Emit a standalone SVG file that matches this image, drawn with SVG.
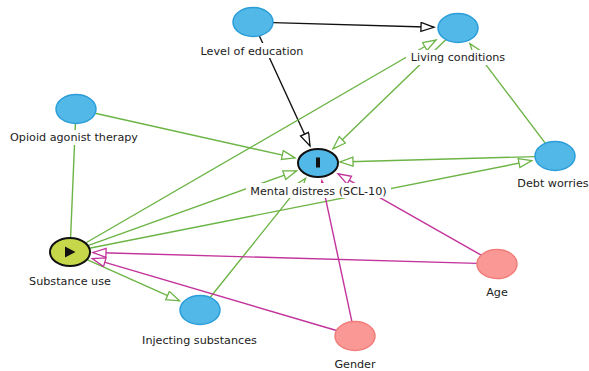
<svg xmlns="http://www.w3.org/2000/svg" width="589" height="371" viewBox="0 0 589 371">
<style>
.e{fill:none;stroke-width:1.4}
.g{stroke:#6cb445}
.m{stroke:#c2339b}
.k{stroke:#111}
.blue{fill:#52b8e8;stroke:#2b9dd8;stroke-width:1.5}
.pink{fill:#fa9896;stroke:#f07d7a;stroke-width:1.5}
.bg{fill:#fff}
.lbl{font-family:"DejaVu Sans",sans-serif;font-size:11.2px;fill:#222;text-anchor:middle}
</style>
<defs>
<marker id="ag" markerUnits="userSpaceOnUse" markerWidth="16" markerHeight="12" refX="14" refY="5" orient="auto"><path d="M1,0.5 L14,5 L1,9.5 Z" fill="#fff" stroke="#6cb445" stroke-width="1.3"/></marker>
<marker id="am" markerUnits="userSpaceOnUse" markerWidth="16" markerHeight="12" refX="14" refY="5" orient="auto"><path d="M1,0.5 L14,5 L1,9.5 Z" fill="#fff" stroke="#c2339b" stroke-width="1.3"/></marker>
<marker id="ak" markerUnits="userSpaceOnUse" markerWidth="16" markerHeight="12" refX="14" refY="5" orient="auto"><path d="M1,0.5 L14,5 L1,9.5 Z" fill="#fff" stroke="#111" stroke-width="1.3"/></marker>
</defs>
<g id="connectors">
<line class="e k" x1="273" y1="22.6" x2="434" y2="27.3" marker-end="url(#ak)"/>
<line class="e k" x1="259.3" y1="35.7" x2="310" y2="146" marker-end="url(#ak)"/>
<line class="e g" x1="446" y1="39.6" x2="333" y2="148.8" marker-end="url(#ag)"/>
<line class="e g" x1="545.4" y1="143.3" x2="469.9" y2="43.6" marker-end="url(#ag)"/>
<line class="e g" x1="535" y1="156.6" x2="340" y2="162" marker-end="url(#ag)"/>
<line class="e g" x1="89.3" y1="248.2" x2="531.8" y2="160.6" marker-end="url(#ag)"/>
<line class="e g" x1="85.6" y1="243" x2="436" y2="40" marker-end="url(#ag)"/>
<line class="e g" x1="87.9" y1="245.6" x2="296.5" y2="170.8" marker-end="url(#ag)"/>
<line class="e g" x1="95.1" y1="113.3" x2="295" y2="157.9" marker-end="url(#ag)"/>
<line class="e g" x1="70.6" y1="237.5" x2="75.4" y2="123.5"/>
<line class="e g" x1="87" y1="259.6" x2="179.4" y2="300.8" marker-end="url(#ag)"/>
<line class="e g" x1="210.1" y1="297.5" x2="305.6" y2="178.4" marker-end="url(#ag)"/>
<line class="e m" x1="481.2" y1="255.1" x2="338" y2="173.8" marker-end="url(#am)"/>
<line class="e m" x1="477" y1="263.4" x2="93" y2="252.5" marker-end="url(#am)"/>
<line class="e m" x1="351.9" y1="321.7" x2="321.8" y2="180.8" marker-end="url(#am)"/>
<line class="e m" x1="336.5" y1="330.5" x2="92.3" y2="258.6" marker-end="url(#am)"/>
</g>
<g id="level-of-education">
<ellipse class="blue" cx="253" cy="22" rx="20" ry="14.5"/>
<rect class="bg" x="197" y="43" width="110" height="15"/>
<text class="lbl" x="252" y="54.5">Level of education</text>
</g>
<g id="living-conditions">
<ellipse class="blue" cx="458" cy="28" rx="20" ry="14.5"/>
<rect class="bg" x="406" y="50" width="104" height="15"/>
<text class="lbl" x="458" y="61">Living conditions</text>
</g>
<g id="opioid-agonist-therapy">
<ellipse class="blue" cx="76" cy="109" rx="20" ry="14.5"/>
<rect class="bg" x="6" y="130" width="136" height="15"/>
<text class="lbl" x="74" y="141">Opioid agonist therapy</text>
</g>
<g id="mental-distress">
<ellipse cx="318" cy="163" rx="20" ry="14" fill="#52b8e8" stroke="#111" stroke-width="2"/>
<rect x="316" y="157.5" width="4" height="10" fill="#111"/>
<rect class="bg" x="246" y="183" width="145" height="15"/>
<text class="lbl" x="318.5" y="194.5">Mental distress (SCL-10)</text>
</g>
<g id="debt-worries">
<ellipse class="blue" cx="555" cy="156" rx="20" ry="14.5"/>
<rect class="bg" x="514" y="176" width="75" height="15"/>
<text class="lbl" x="553" y="187">Debt worries</text>
</g>
<g id="substance-use">
<ellipse cx="70" cy="252" rx="20" ry="14" fill="#c6d84a" stroke="#111" stroke-width="2"/>
<path d="M65,246.5 L75.5,252 L65,257.5 Z" fill="#111"/>
<rect class="bg" x="26" y="274" width="88" height="15"/>
<text class="lbl" x="70" y="285">Substance use</text>
</g>
<g id="injecting-substances">
<ellipse class="blue" cx="200" cy="310" rx="20" ry="14.5"/>
<rect class="bg" x="138" y="333" width="123" height="15"/>
<text class="lbl" x="199.5" y="344">Injecting substances</text>
</g>
<g id="age">
<ellipse class="pink" cx="497" cy="264" rx="20" ry="14.5"/>
<rect class="bg" x="483" y="285" width="28" height="15"/>
<text class="lbl" x="497" y="296">Age</text>
</g>
<g id="gender">
<ellipse class="pink" cx="355" cy="336" rx="20" ry="14.5"/>
<rect class="bg" x="330" y="357" width="50" height="14"/>
<text class="lbl" x="355" y="368">Gender</text>
</g>
</svg>
